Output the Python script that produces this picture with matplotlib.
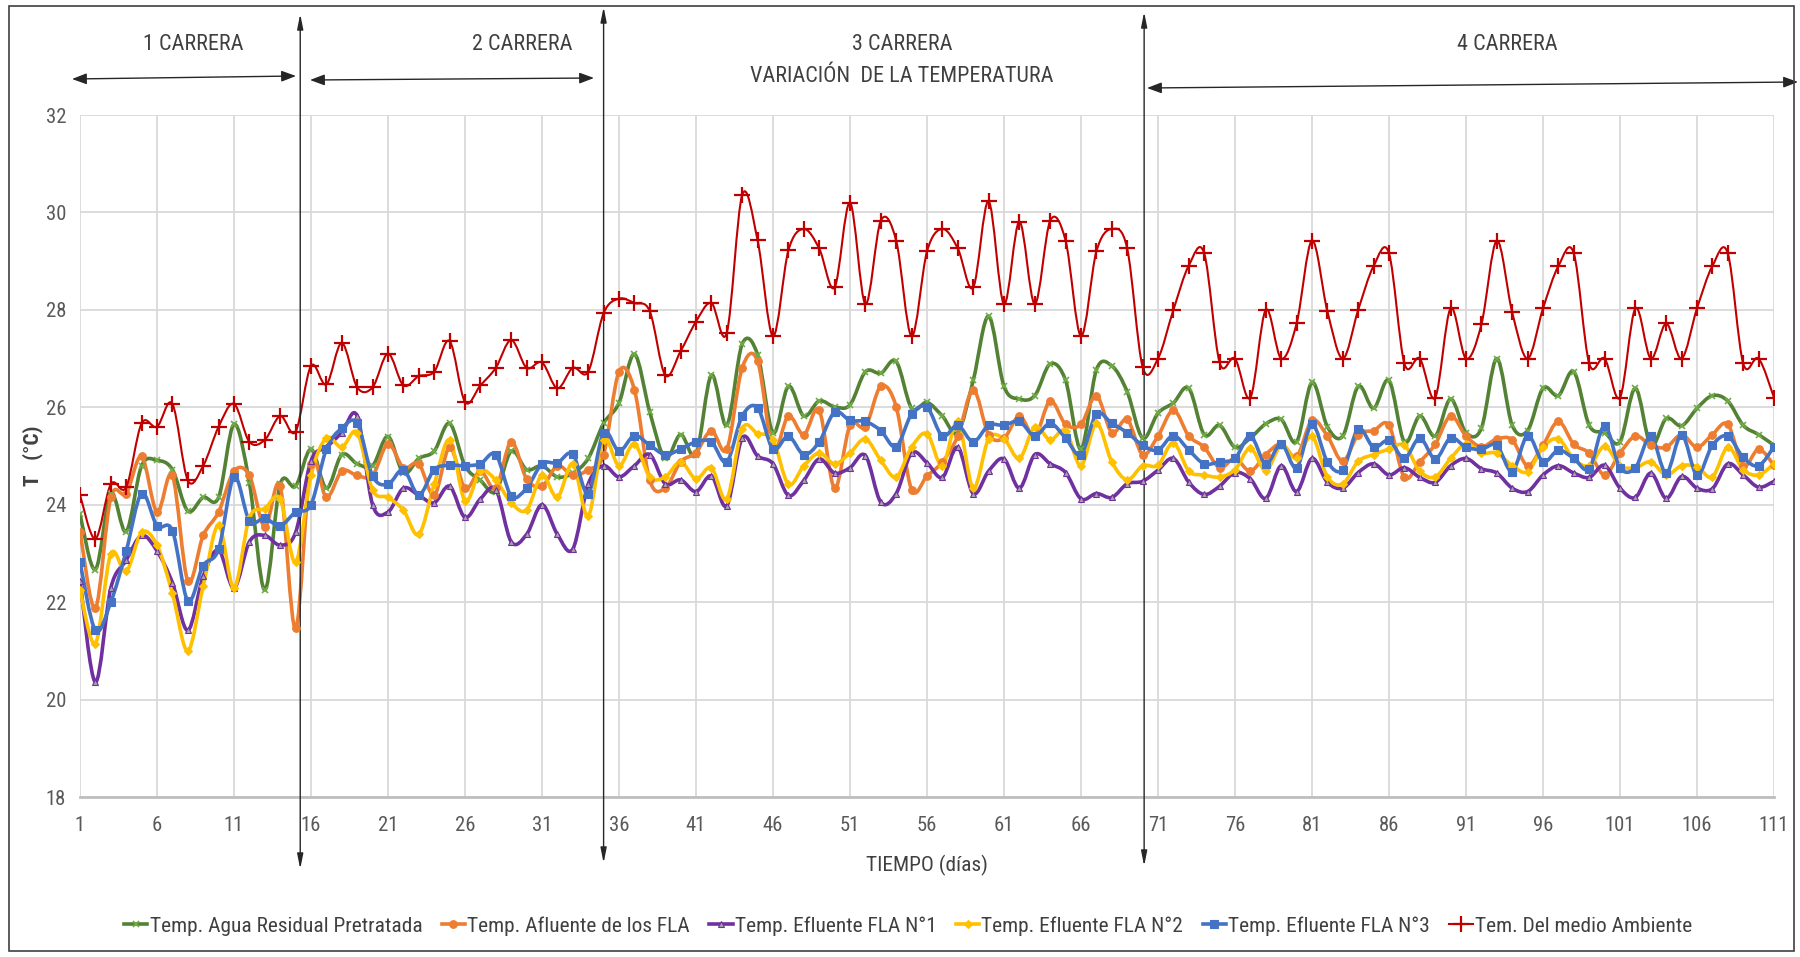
import matplotlib
matplotlib.use("Agg")
import matplotlib.pyplot as plt
import matplotlib.font_manager as fm
from matplotlib.path import Path
from matplotlib.patches import PathPatch, FancyArrowPatch, Rectangle
from matplotlib.lines import Line2D
import numpy as np

# ------------------------------------------------------------------ #
#  DATOS                                          #
# ------------------------------------------------------------------ #
DIAS = list(range(1, 112))

AGUA_PRETRATADA = [
    23.8, 22.67, 24.23, 23.45, 24.8, 24.91, 24.72, 23.87, 24.15, 24.15,
    25.65, 24.45, 22.25, 24.42, 24.38, 25.14, 24.34, 25.03, 24.84, 24.8,
    25.4, 24.65, 24.95, 25.1, 25.67, 24.8, 24.5, 24.27, 25.1, 24.72,
    24.8, 24.57, 24.65, 24.95, 25.67, 26.09, 27.09, 25.9, 24.95, 25.44,
    25.03, 26.66, 25.63, 27.3, 27.08, 25.48, 26.43, 25.82, 26.13, 26.01,
    26.05, 26.73, 26.7, 26.94, 25.98, 26.1, 25.82, 25.48, 26.55, 27.87,
    26.43, 26.17, 26.24, 26.89, 26.55, 25.14, 26.77, 26.85, 26.32, 25.37,
    25.88, 26.09, 26.39, 25.44, 25.63, 25.18, 25.37, 25.66, 25.75, 25.29,
    26.51, 25.6, 25.41, 26.43, 25.98, 26.55, 25.29, 25.82, 25.41, 26.17,
    25.48, 25.57, 27.0, 25.63, 25.52, 26.39, 26.24, 26.73, 25.63, 25.48,
    25.29, 26.39, 25.22, 25.77, 25.62, 25.98, 26.24, 26.13, 25.63, 25.44,
    25.22]

AFLUENTE_FLA = [
    23.45, 21.88, 24.15, 24.23, 24.99, 23.85, 24.6, 22.44, 23.37, 23.85,
    24.69, 24.6, 23.54, 24.38, 21.46, 24.84, 24.15, 24.69, 24.6, 24.6,
    25.25, 24.76, 24.84, 24.19, 25.18, 24.34, 24.69, 24.34, 25.29, 24.53,
    24.38, 24.8, 24.6, 24.72, 25.03, 26.73, 26.36, 24.5, 24.34, 24.88,
    25.07, 25.52, 25.14, 26.81, 26.95, 25.14, 25.82, 25.44, 25.94, 24.34,
    25.63, 25.6, 26.43, 26.01, 24.31, 24.59, 24.88, 25.41, 26.36, 25.44,
    25.37, 25.82, 25.41, 26.13, 25.65, 25.65, 26.24, 25.48, 25.75, 25.03,
    25.41, 25.94, 25.41, 25.18, 24.76, 24.95, 24.69, 25.03, 25.25, 24.99,
    25.73, 25.41, 24.89, 25.44, 25.52, 25.63, 24.56, 24.88, 25.24, 25.82,
    25.41, 25.19, 25.35, 25.33, 24.8, 25.22, 25.71, 25.24, 25.06, 24.61,
    25.06, 25.41, 25.22, 25.18, 25.44, 25.18, 25.44, 25.65, 24.8, 25.14,
    24.81]

EFLUENTE_1 = [
    22.44, 20.36, 22.29, 22.86, 23.37, 23.05, 22.4, 21.42, 22.53, 23.07,
    22.29, 23.24, 23.37, 23.17, 23.43, 24.9, 25.18, 25.48, 25.82, 24.0,
    23.85, 24.34, 24.19, 24.04, 24.38, 23.74, 24.12, 24.31, 23.24, 23.39,
    24.0, 23.39, 23.09, 24.42, 24.8, 24.57, 24.8, 25.03, 24.43, 24.51,
    24.27, 24.59, 23.98, 25.37, 25.0, 24.84, 24.19, 24.5, 24.94, 24.65,
    24.76, 25.01, 24.05, 24.23, 25.06, 24.86, 24.56, 25.18, 24.23, 24.69,
    24.94, 24.34, 25.03, 24.84, 24.66, 24.12, 24.23, 24.15, 24.43, 24.48,
    24.71, 24.95, 24.46, 24.21, 24.38, 24.66, 24.53, 24.13, 24.8, 24.27,
    24.95, 24.46, 24.34, 24.66, 24.84, 24.61, 24.76, 24.56, 24.46, 24.8,
    24.95, 24.74, 24.65, 24.34, 24.27, 24.61, 24.8, 24.65, 24.56, 24.81,
    24.34, 24.15, 24.65, 24.13, 24.58, 24.34, 24.33, 24.84, 24.61, 24.36,
    24.48]

EFLUENTE_2 = [
    22.25, 21.15, 22.99, 22.63, 23.43, 23.17, 22.18, 21.0, 22.33, 23.58,
    22.29, 23.73, 23.92, 24.12, 22.82, 24.6, 25.37, 25.18, 25.48, 24.3,
    24.15, 23.89, 23.39, 24.42, 25.33, 24.08, 24.69, 24.5, 24.04, 23.89,
    24.6, 24.15, 24.84, 23.77, 25.33, 24.8, 25.25, 24.57, 24.57, 24.88,
    24.53, 24.76, 24.12, 25.56, 25.46, 25.33, 24.42, 24.8, 25.06, 24.84,
    25.06, 25.35, 24.91, 24.57, 25.18, 25.46, 24.8, 25.71, 24.34, 25.35,
    25.35, 24.95, 25.6, 25.33, 25.52, 24.8, 25.67, 24.88, 24.51, 24.8,
    24.81, 25.27, 24.69, 24.61, 24.57, 24.72, 25.16, 24.7, 25.22, 24.95,
    25.41, 24.57, 24.43, 24.89, 25.03, 25.14, 25.22, 24.69, 24.57, 24.95,
    25.25, 25.06, 25.06, 24.8, 24.68, 25.18, 25.35, 24.94, 24.8, 25.2,
    24.8, 24.76, 24.88, 24.61, 24.8, 24.78, 24.57, 25.18, 24.72, 24.61,
    24.84]

EFLUENTE_3 = [
    22.82, 21.42, 22.0, 23.05, 24.23, 23.57, 23.47, 22.03, 22.75, 23.09,
    24.57, 23.67, 23.72, 23.57, 23.85, 24.0, 25.14, 25.57, 25.67, 24.59,
    24.42, 24.72, 24.2, 24.72, 24.81, 24.8, 24.84, 25.03, 24.18, 24.34,
    24.84, 24.86, 25.04, 24.23, 25.48, 25.1, 25.42, 25.22, 25.03, 25.14,
    25.29, 25.29, 24.88, 25.82, 25.99, 25.14, 25.41, 25.03, 25.29, 25.9,
    25.73, 25.71, 25.52, 25.19, 25.86, 26.0, 25.41, 25.63, 25.29, 25.63,
    25.63, 25.71, 25.41, 25.67, 25.37, 25.03, 25.86, 25.67, 25.48, 25.22,
    25.12, 25.42, 25.12, 24.84, 24.88, 24.95, 25.41, 24.84, 25.25, 24.76,
    25.65, 24.88, 24.72, 25.56, 25.18, 25.32, 24.95, 25.37, 24.94, 25.37,
    25.18, 25.14, 25.22, 24.68, 25.42, 24.88, 25.12, 24.95, 24.74, 25.62,
    24.76, 24.76, 25.41, 24.65, 25.44, 24.61, 25.22, 25.41, 24.97, 24.8,
    25.19]

AMBIENTE = [
    24.2, 23.3, 24.42, 24.36, 25.67, 25.6, 26.07, 24.5, 24.8, 25.6,
    26.07, 25.29, 25.33, 25.82, 25.5, 26.85, 26.47, 27.32, 26.41, 26.41,
    27.1, 26.45, 26.64, 26.73, 27.36, 26.11, 26.45, 26.81, 27.38, 26.81,
    26.92, 26.39, 26.81, 26.73, 27.93, 28.23, 28.14, 27.97, 26.66, 27.15,
    27.76, 28.14, 27.53, 30.36, 29.43, 27.46, 29.22, 29.66, 29.26, 28.46,
    30.2, 28.12, 29.83, 29.42, 27.46, 29.2, 29.66, 29.26, 28.46, 30.23,
    28.12, 29.81, 28.12, 29.83, 29.42, 27.46, 29.2, 29.66, 29.26, 26.83,
    27.0, 28.0, 28.91, 29.16, 26.92, 27.0, 26.2, 28.0, 27.0, 27.72,
    29.42, 27.97, 27.0, 28.0, 28.9, 29.16, 26.9, 27.0, 26.2, 28.03,
    27.0, 27.7, 29.42, 27.95, 27.0, 28.03, 28.9, 29.16, 26.9, 27.0,
    26.2, 28.03, 27.0, 27.72, 27.0, 28.03, 28.9, 29.16, 26.9, 27.0,
    26.2]

SERIES = [
    ("Temp. Agua Residual Pretratada", AGUA_PRETRATADA),
    ("Temp. Afluente de los FLA", AFLUENTE_FLA),
    ("Temp. Efluente FLA N°1", EFLUENTE_1),
    ("Temp. Efluente FLA N°2", EFLUENTE_2),
    ("Temp. Efluente FLA N°3", EFLUENTE_3),
    ("Tem. Del medio Ambiente", AMBIENTE),
]

X_TICKS = list(range(1, 112, 5))
Y_TICKS = list(range(18, 33, 2))
SEPARADORES = [15.3, 35.0, 70.1]   # dias donde cambian las carreras

# estilo de cada serie: color, marcador, tam. marcador, relleno, grosor linea
ESTILOS = [
    ("#548235", "x", 4, "#70AD47", 2.6),
    ("#ED7D31", "o", 5.5, "#ED7D31", 2.6),
    ("#7030A0", "^", 5, "#A5A5A5", 2.6),
    ("#FFC000", "D", 4, "#FFC000", 2.6),
    ("#4472C4", "s", 5.5, "#4472C4", 2.6),
    ("#C00000", "+", 12, "#C00000", 1.5),
]
GRIS = "#595959"
TEXTO = "#404040"

# ------------------------------------------------------------------ #
#  fuente estrecha (tipo Arial Narrow) si existe                       #
# ------------------------------------------------------------------ #
fuentes = fm.fontManager.ttflist
nombres = {f.name for f in fuentes}
STRETCH = "normal"
if "Liberation Sans Narrow" in nombres:
    FAMILIA, ESCALA = "Liberation Sans Narrow", 1.15
elif "Roboto Condensed" in nombres:
    FAMILIA, ESCALA = "Roboto Condensed", 1.1
elif any(f.name == "DejaVu Sans" and "Condensed" in f.fname for f in fuentes):
    FAMILIA, ESCALA, STRETCH = "DejaVu Sans", 0.95, "condensed"
else:
    FAMILIA, ESCALA = "Liberation Sans", 1.0
plt.rcParams["font.family"] = [FAMILIA, "DejaVu Sans"]
plt.rcParams["font.stretch"] = STRETCH


def fs(pt):
    return pt * ESCALA


def curva_suave(x, y):
    """Path Bezier tipo 'linea suavizada' de Excel que pasa por todos los puntos."""
    p = np.column_stack([x, y]).astype(float)
    verts = [p[0]]
    codes = [Path.MOVETO]
    n = len(p)
    for i in range(n - 1):
        p0 = p[i - 1] if i > 0 else p[i]
        p3 = p[i + 2] if i + 2 < n else p[i + 1]
        c1 = p[i] + (p[i + 1] - p0) / 6.0
        c2 = p[i + 1] - (p3 - p[i]) / 6.0
        verts += [c1, c2, p[i + 1]]
        codes += [Path.CURVE4] * 3
    return Path(verts, codes)


W, H = 1800, 957
fig = plt.figure(figsize=(W / 100, H / 100), dpi=100)
ax = fig.add_axes([80 / W, 1 - 797 / H, (1774 - 80) / W, (797 - 115) / H])


def fpx(x, y):
    """pixeles (origen arriba-izquierda) -> fraccion de figura"""
    return (x / W, 1 - y / H)


handles = []
for (nombre, vals), (col, mk, ms, mfc, lw) in zip(SERIES, ESTILOS):
    ax.add_patch(PathPatch(curva_suave(DIAS, vals), fill=False, edgecolor=col,
                           lw=lw, capstyle="round", joinstyle="round", zorder=3))
    mew = 1.6 if mk == "+" else (1.2 if mk == "x" else 0.8)
    ax.plot(DIAS, vals, ls="none", marker=mk, ms=ms, mfc=mfc,
            mec=(mfc if mk == "x" else col), mew=mew, zorder=4)
    handles.append(Line2D([], [], color=col, lw=lw, marker=mk, ms=ms, mfc=mfc,
                          mec=(mfc if mk == "x" else col), mew=mew, label=nombre))

ax.set_xlim(1, 111)
ax.set_ylim(18, 32)
ax.set_xticks(X_TICKS)
ax.set_yticks(Y_TICKS)
ax.tick_params(length=0, labelsize=fs(13.5), colors=GRIS, pad=14)
ax.tick_params(axis="y", pad=10)
ax.grid(True, color="#D9D9D9", lw=1.3)
ax.set_axisbelow(True)
for s in ["top", "right", "left"]:
    ax.spines[s].set_visible(False)
ax.spines["bottom"].set_color("#BFBFBF")
ax.spines["bottom"].set_linewidth(2)

ax.set_xlabel("TIEMPO (días)", fontsize=fs(14), color=TEXTO, labelpad=14)
ax.set_ylabel("T   (°C)", fontsize=fs(14), color=TEXTO, fontweight="bold", labelpad=2)

# lineas verticales con flechas que separan las carreras
for xs, ytop, ybot in zip(SEPARADORES, [14, 7, 12], [869, 863, 866]):
    ax.annotate("", xy=(xs, 1 - ybot / H), xytext=(xs, 1 - ytop / H),
                xycoords=("data", "figure fraction"), textcoords=("data", "figure fraction"),
                annotation_clip=False,
                arrowprops=dict(arrowstyle="<|-|>,head_length=0.9,head_width=0.18",
                                color="#262626", lw=1.0, shrinkA=0, shrinkB=0))

# flechas horizontales de cada carrera
for (x0, y0, x1, y1) in [(72, 79, 296, 76), (310, 80, 594, 78), (1147, 88, 1798, 82)]:
    fig.patches.append(FancyArrowPatch(fpx(x0, y0), fpx(x1, y1), transform=fig.transFigure,
                                       arrowstyle="<|-|>,head_length=0.8,head_width=0.3",
                                       mutation_scale=11, color="#262626", lw=1.0,
                                       shrinkA=0, shrinkB=0))

for txt, x, y in [("1 CARRERA", 193, 44), ("2 CARRERA", 522, 44), ("3 CARRERA", 902, 44),
                  ("VARIACIÓN  DE LA TEMPERATURA", 902, 77), ("4 CARRERA", 1507, 44)]:
    fig.text(*fpx(x, y), txt, ha="center", va="center", fontsize=fs(14.5), color=TEXTO)

fig.legend(handles=handles, loc="center", bbox_to_anchor=fpx(908, 926), ncol=6,
           frameon=False, fontsize=fs(14), handlelength=1.1, handletextpad=0.1,
           columnspacing=0.9, labelcolor=TEXTO)

# marco exterior
fig.patches.append(Rectangle(fpx(9, 951), (1794 - 9) / W, (951 - 6) / H,
                             transform=fig.transFigure, fill=False, ec="#404040", lw=1.2))

fig.savefig("out.png", dpi=100, facecolor="white")
